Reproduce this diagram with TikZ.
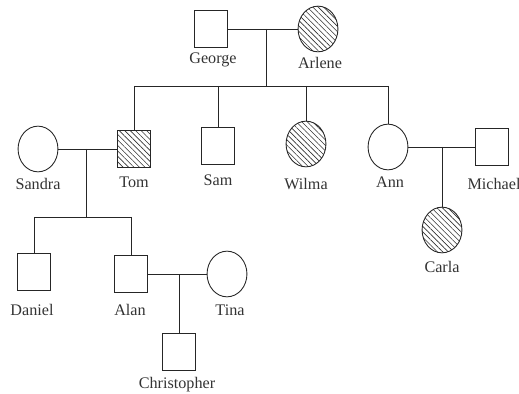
\documentclass[tikz,border=0pt]{standalone}
\usepackage{fontspec}
\setmainfont{Liberation Serif}
\usetikzlibrary{shapes.geometric,patterns.meta}
\tikzset{
  male/.style={draw, rectangle, inner sep=0pt, minimum width=18.7pt, minimum height=21.5pt},
  female/.style={draw, ellipse, inner sep=0pt, minimum width=22.7pt, minimum height=26pt},
  hit/.style={pattern={Lines[angle=-45,distance=2.2pt,line width=0.35pt]}, pattern color=black!80},
  persontext/.style={inner sep=0pt, font=\fontsize{9.2}{10}\selectfont, text=black!80}
}
\begin{document}
\begin{tikzpicture}[x=0.02cm, y=-0.02cm, line width=0.5pt, draw=black!85]
    \useasboundingbox (0,0) rectangle (519,394);
    \node [male] (george) at (211,29) {};
    \node [female, hit] (arlene) at (318,29) {};
    \node [female] (sandra) at (38,149) {};
    \node [male, hit] (tom) at (134,149) {};
    \node [male] (sam) at (218,146) {};
    \node [female, hit] (wilma) at (306,144) {};
    \node [female] (ann) at (388,147) {};
    \node [male] (michael) at (492,147) {};
    \node [female, hit] (carla) at (442,230) {};
    \node [male] (daniel) at (34,272) {};
    \node [male] (alan) at (131,274) {};
    \node [female] (tina) at (227,274) {};
    \node [male] (christopher) at (179,352) {};
    \node [persontext] (georgeT) at (213,60) {George};
    \node [persontext] (arleneT) at (320,63) {Arlene};
    \node [persontext] (sandraT) at (38,184) {Sandra};
    \node [persontext] (tomT) at (134,182) {Tom};
    \node [persontext] (samT) at (218,180) {Sam};
    \node [persontext] (wilmaT) at (306,184) {Wilma};
    \node [persontext] (annT) at (390,182) {Ann};
    \node [persontext] (michaelT) at (494,184) {Michael};
    \node [persontext] (carlaT) at (442,267) {Carla};
    \node [persontext] (danielT) at (32,310) {Daniel};
    \node [persontext] (alanT) at (130,310) {Alan};
    \node [persontext] (tinaT) at (230,310) {Tina};
    \node [persontext] (christopherT) at (177,385) {Christopher};
    \coordinate (gaM) at (266,29);
    \coordinate (gaS) at (266,86);
    \coordinate (stM) at (86,149);
    \coordinate (stS) at (86,217);
    \coordinate (amM) at (442,147);
    \coordinate (atM) at (179,274);
    \draw (george) -- (arlene);
    \draw (gaM) -- (gaS);
    \draw (tom.north |- gaS) -- (ann.north |- gaS);
    \draw (tom.north |- gaS) -- (tom.north);
    \draw (sam.north |- gaS) -- (sam.north);
    \draw (wilma.north |- gaS) -- (wilma.north);
    \draw (ann.north |- gaS) -- (ann.north);
    \draw (sandra) -- (tom);
    \draw (stM) -- (stS);
    \draw (daniel.north |- stS) -- (alan.north |- stS);
    \draw (daniel.north |- stS) -- (daniel.north);
    \draw (alan.north |- stS) -- (alan.north);
    \draw (ann) -- (michael);
    \draw (amM) -- (carla.north);
    \draw (alan) -- (tina);
    \draw (atM) -- (christopher.north);
\end{tikzpicture}
\end{document}
